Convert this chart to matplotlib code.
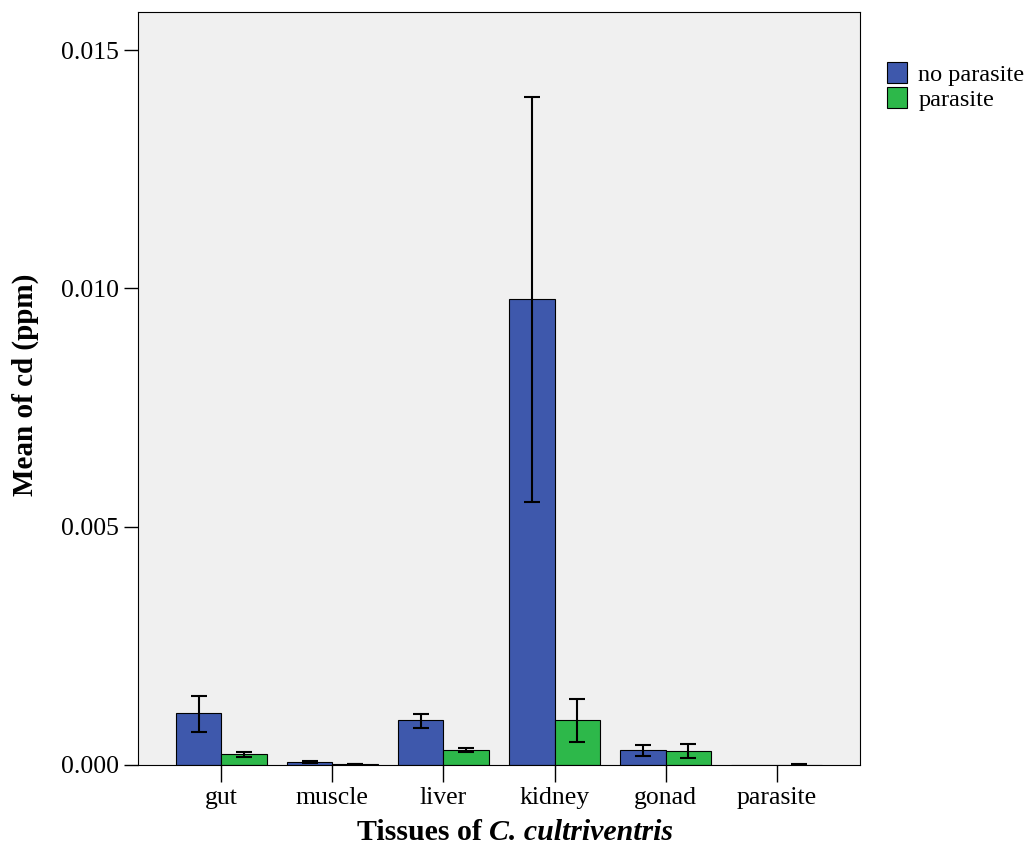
import numpy as np
import matplotlib.pyplot as plt
from matplotlib.patches import Patch

plt.rcParams['font.family'] = ['Liberation Serif', 'DejaVu Serif']

# data (ppm)
tissues = ["gut", "muscle", "liver", "kidney", "gonad", "parasite"]
groups = ["no parasite", "parasite"]
no_par_mean = [0.001085, 0.000063, 0.000937, 0.009776, 0.000308, 0.0]
no_par_low = [0.000686, 0.000048, 0.000783, 0.005517, 0.000196, np.nan]
no_par_high = [0.001454, 0.000084, 0.001077, 0.014014, 0.000426, np.nan]
par_mean = [0.000224, 0.000020, 0.000308, 0.000937, 0.000287, 0.000008]
par_low = [0.000175, 0.000012, 0.000266, 0.000483, 0.000147, 0.000004]
par_high = [0.000273, 0.000028, 0.000364, 0.001390, 0.000434, 0.000012]

colors = ["#3E58AC", "#2DB84A"]

fig = plt.figure(figsize=(10.34, 8.48), dpi=100)
ax = fig.add_axes([0.1335, 0.0979, 0.6982, 0.8879])
ax.set_facecolor("#F0F0F0")

x = np.arange(len(tissues))
w = 0.41
series = [(no_par_mean, no_par_low, no_par_high), (par_mean, par_low, par_high)]
for i, (m, lo, hi) in enumerate(series):
    m = np.array(m)
    lo = np.array(lo)
    hi = np.array(hi)
    pos = x - w / 2 + i * w
    ax.bar(pos, m, width=w, color=colors[i], edgecolor="black", linewidth=0.8, zorder=2)
    ok = ~np.isnan(lo)
    ax.errorbar(pos[ok], m[ok], yerr=[m[ok] - lo[ok], hi[ok] - m[ok]], fmt="none",
                ecolor="black", elinewidth=1.5, capsize=6, capthick=1.5, zorder=3)

ax.set_xlim(-0.75, 5.75)
ax.set_ylim(0, 0.0158)
ax.set_xticks(x)
ax.set_xticklabels(tissues, fontsize=18.5)
ax.set_yticks([0, 0.005, 0.010, 0.015])
ax.set_yticklabels(["0.000", "0.005", "0.010", "0.015"], fontsize=18.5)
ax.tick_params(axis="y", direction="out", length=10, width=1, pad=4)
ax.tick_params(axis="x", direction="out", length=12, width=1, pad=4)
for s in ax.spines.values():
    s.set_linewidth(0.8)

ax.set_ylabel("Mean of cd (ppm)", fontsize=21, fontweight="bold")
ax.yaxis.set_label_coords(25 / 1034, 1 - 385 / 848, transform=fig.transFigure)
ax.yaxis.label.set_va("center")

# x label: bold upright part + bold italic species name
renderer = fig.canvas.get_renderer()
t1 = fig.text(0, 0, "Tissues of ", fontsize=21.5, fontweight="bold")
t2 = fig.text(0, 0, "C. cultriventris", fontsize=21.5, fontweight="bold", style="italic")
w1 = t1.get_window_extent(renderer).width
w2 = t2.get_window_extent(renderer).width
figw = fig.get_figwidth() * fig.dpi
cx = 515
x0 = cx - (w1 + w2) / 2
ylab = 1 - 832 / 848
t1.set_position((x0 / figw, ylab))
t1.set_va("center")
t2.set_position(((x0 + w1) / figw, ylab))
t2.set_va("center")

handles = [Patch(facecolor=c, edgecolor="black", linewidth=0.8, label=g)
           for c, g in zip(colors, groups)]
fig.legend(handles=handles, loc="upper left", bbox_to_anchor=(877 / 1034, 1 - 52 / 848),
           frameon=False, fontsize=17.5, handlelength=0.85, handleheight=0.95,
           handletextpad=0.45, labelspacing=0.05, borderaxespad=0)

plt.savefig("out.png", dpi=100)
